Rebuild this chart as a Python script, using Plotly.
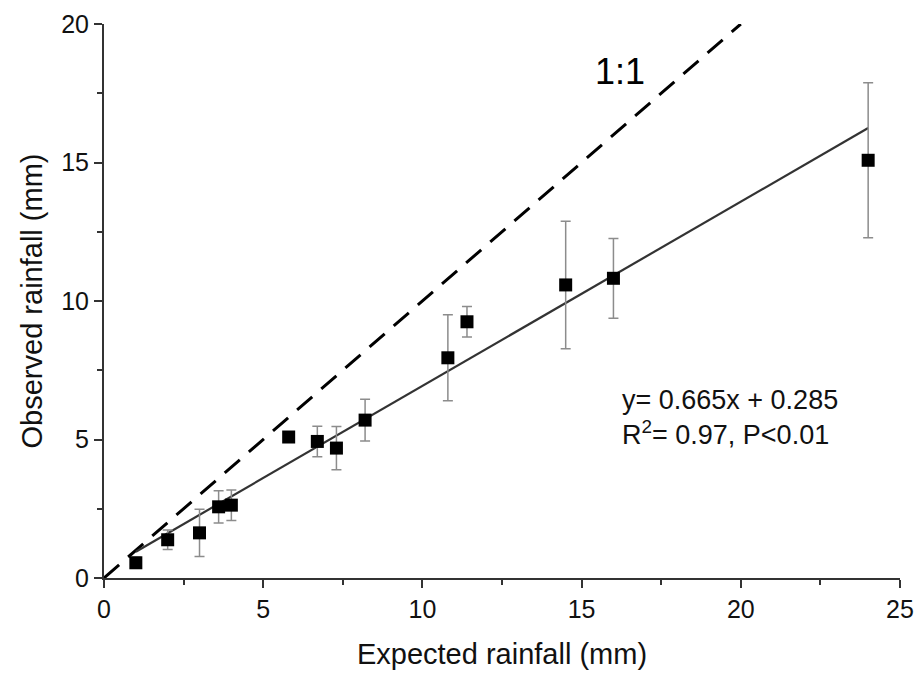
import plotly.graph_objects as go

expected = [1.0, 2.0, 3.0, 3.6, 4.0, 5.8, 6.7, 7.3, 8.2, 10.8, 11.4, 14.5, 16.0, 24.0]
observed = [0.55, 1.38, 1.63, 2.57, 2.63, 5.09, 4.93, 4.69, 5.70, 7.95, 9.25, 10.58, 10.82, 15.08]
err = [0.2, 0.35, 0.85, 0.58, 0.55, 0.1, 0.55, 0.78, 0.75, 1.55, 0.55, 2.3, 1.44, 2.8]

slope, intercept = 0.665, 0.285
fit_x = [min(expected), max(expected)]
fit_y = [slope * v + intercept for v in fit_x]
one_x = [0, 20]
one_y = [0, 20]

x_ticks = [0, 5, 10, 15, 20, 25]
y_ticks = [0, 5, 10, 15, 20]

font = "Liberation Sans, Arial, sans-serif"

fig = go.Figure()
fig.add_trace(go.Scatter(x=one_x, y=one_y, mode="lines",
                         line=dict(color="black", width=3, dash="20px,12px"),
                         showlegend=False, hoverinfo="skip"))
fig.add_trace(go.Scatter(x=fit_x, y=fit_y, mode="lines",
                         line=dict(color="#333333", width=2.2),
                         showlegend=False, hoverinfo="skip"))
fig.add_trace(go.Scatter(x=expected, y=observed, mode="markers",
                         marker=dict(symbol="square", size=13, color="black"),
                         error_y=dict(type="data", array=err, visible=True,
                                      color="#8c8c8c", thickness=1.5, width=5),
                         showlegend=False))

fig.add_annotation(x=16.2, y=18.3, text="1:1", showarrow=False,
                   font=dict(family=font, size=36, color="black"))
fig.add_annotation(x=16.2, y=5.8, xanchor="left",
                   text="y= 0.665x + 0.285<br>R<sup>2</sup>= 0.97, P<0.01",
                   showarrow=False, align="left",
                   font=dict(family=font, size=27, color="#111"))

axis_common = dict(showline=True, linecolor="#333", linewidth=2,
                   ticks="outside", ticklen=8, tickwidth=2, tickcolor="#333",
                   showgrid=False, zeroline=False, mirror=False, automargin=False,
                   tickfont=dict(family=font, size=25, color="#111"))

fig.update_xaxes(range=[0, 25], tickvals=x_ticks,
                 minor=dict(dtick=2.5, ticks="outside", ticklen=5, tickwidth=2, tickcolor="#333"),
                 title=dict(text="Expected rainfall (mm)", font=dict(family=font, size=29, color="#111"),
                            standoff=22),
                 **axis_common)
fig.update_yaxes(range=[0, 20], tickvals=y_ticks,
                 minor=dict(dtick=2.5, ticks="outside", ticklen=5, tickwidth=2, tickcolor="#333"),
                 title=dict(text="Observed rainfall (mm)", font=dict(family=font, size=29, color="#111"),
                            standoff=10),
                 **axis_common)

fig.update_layout(width=917, height=675, plot_bgcolor="white", paper_bgcolor="white",
                  margin=dict(l=104, r=17, t=24, b=97))

fig.write_html("out.html", config={"displayModeBar": False},
               post_script="document.body.style.margin='0';document.body.style.overflow='hidden';")
